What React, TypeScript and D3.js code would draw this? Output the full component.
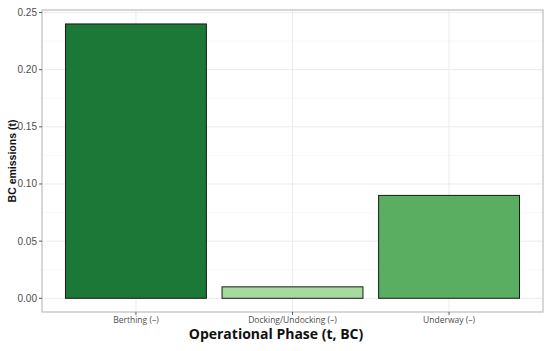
import * as d3 from "d3";

const phases = ["Berthing (–)", "Docking/Undocking (–)", "Underway (–)"];
const emissions = [0.24, 0.01, 0.09];
const barColors = ["#1b7837", "#a6dba0", "#5aae61"];
const yTicks = [0, 0.05, 0.1, 0.15, 0.2, 0.25];
const yMinor = [0.025, 0.075, 0.125, 0.175, 0.225];

const WIDTH = 550;
const HEIGHT = 351;
const MARGIN = { top: 10, right: 7, bottom: 39, left: 42 };

function App() {
  const boundsWidth = WIDTH - MARGIN.left - MARGIN.right;
  const boundsHeight = HEIGHT - MARGIN.top - MARGIN.bottom;

  // ggplot style: 0.6 units padding each side of discrete axis
  const xPos = d3
    .scaleLinear()
    .domain([0.4, phases.length + 0.6])
    .range([0, boundsWidth]);
  const unit = xPos(2) - xPos(1);

  const maxV = d3.max(emissions) ?? 0;
  const yScale = d3
    .scaleLinear()
    .domain([-maxV * 0.05, 0.25 + 0.0022])
    .range([boundsHeight, 0]);

  const fmt = d3.format(".2f");

  return (
    <svg
      width={WIDTH}
      height={HEIGHT}
      style={{ position: "fixed", left: 0, top: 0, background: "white" }}
    >
      <g transform={`translate(${MARGIN.left},${MARGIN.top})`}>
        {yMinor.map((t) => (
          <line key={"m" + t} x1={0} x2={boundsWidth} y1={yScale(t)} y2={yScale(t)} stroke="#f3f3f3" strokeWidth={0.6} />
        ))}
        {yTicks.map((t) => (
          <line key={"g" + t} x1={0} x2={boundsWidth} y1={yScale(t)} y2={yScale(t)} stroke="#ebebeb" strokeWidth={1} />
        ))}
        {phases.map((p, i) => (
          <line key={"v" + p} x1={xPos(i + 1)} x2={xPos(i + 1)} y1={0} y2={boundsHeight} stroke="#ebebeb" strokeWidth={1} />
        ))}
        {phases.map((p, i) => (
          <rect
            key={p}
            x={xPos(i + 1) - unit * 0.45}
            width={unit * 0.9}
            y={yScale(emissions[i])}
            height={yScale(0) - yScale(emissions[i])}
            fill={barColors[i]}
            stroke="#1a1a1a"
            strokeWidth={1}
          />
        ))}
        <rect x={0} y={0} width={boundsWidth} height={boundsHeight} fill="none" stroke="#bdbdbd" strokeWidth={1.2} />
        {yTicks.map((t) => (
          <g key={"t" + t} transform={`translate(0,${yScale(t)})`}>
            <line x1={-3} x2={0} stroke="#333" strokeWidth={0.8} />
            <text
              x={-5}
              dy="0.35em"
              textAnchor="end"
              fontFamily="Liberation Sans, Arial, sans-serif"
              fontSize={10}
              fill="#4d4d4d"
            >
              {fmt(t)}
            </text>
          </g>
        ))}
        {phases.map((p, i) => (
          <g key={"x" + p} transform={`translate(${xPos(i + 1)},${boundsHeight})`}>
            <line y1={0} y2={3} stroke="#333" strokeWidth={0.8} />
            <text
              y={11}
              textAnchor="middle"
              fontFamily="Open Sans, sans-serif"
              fontSize={8.5}
              fill="#4d4d4d"
            >
              {p}
            </text>
          </g>
        ))}
      </g>
      <text
        x={276}
        y={339}
        textAnchor="middle"
        fontFamily="Open Sans, sans-serif"
        fontWeight="bold"
        fontSize={14}
        fill="#111"
      >
        Operational Phase (t, BC)
      </text>
      <text
        transform={`translate(16,${MARGIN.top + boundsHeight / 2}) rotate(-90)`}
        textAnchor="middle"
        fontFamily="Liberation Sans, Arial, sans-serif"
        fontWeight="bold"
        fontSize={10.5}
        fill="#111"
      >
        BC emissions (t)
      </text>
    </svg>
  );
}

export default App;
